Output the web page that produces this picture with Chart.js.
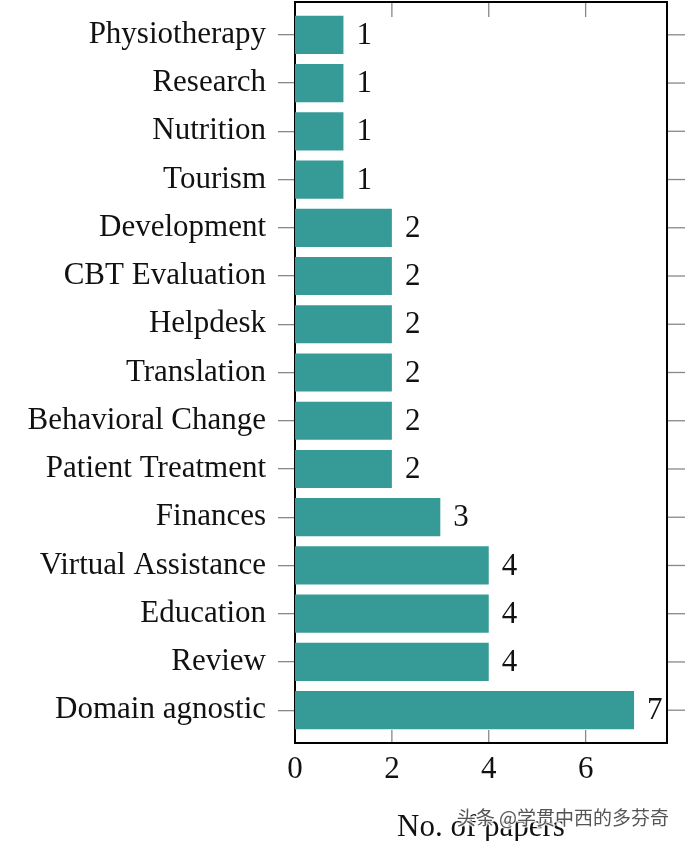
<!DOCTYPE html>
<html lang="en">
<head>
  <meta charset="UTF-8" />
  <title>Papers per domain</title>
  <script src="https://cdn.jsdelivr.net/npm/chart.js"></script>
  <style>
    html, body {
      margin: 0;
      padding: 0;
      background: #fff;
    }
    .chart-box {
      width: 685px;
      height: 841px;
      position: relative;
    }
  </style>
</head>
<body>
  <div class="chart-box">
    <canvas id="papersChart"></canvas>
  </div>

  <script>
    const domains = ['Physiotherapy', 'Research', 'Nutrition', 'Tourism', 'Development',
      'CBT Evaluation', 'Helpdesk', 'Translation', 'Behavioral Change', 'Patient Treatment',
      'Finances', 'Virtual Assistance', 'Education', 'Review', 'Domain agnostic'];
    const paperCounts = [1, 1, 1, 1, 2, 2, 2, 2, 2, 2, 3, 4, 4, 4, 7];
    const xTicks = [0, 2, 4, 6];
    const xTitle = 'No. of papers';
    const watermark = '头条 @学贯中西的多芬奇';

    const SERIF = "'Liberation Serif', 'Times New Roman', serif";
    const TEAL = '#369b97';

    // frame around plot + inward x ticks + outward right ticks
    const framePlugin = {
      id: 'frame',
      beforeDatasetsDraw(chart) {
        const { ctx, chartArea: a, scales } = chart;
        ctx.save();
        ctx.strokeStyle = '#888';
        ctx.lineWidth = 1.3;
        xTicks.forEach(v => {
          const px = scales.x.getPixelForValue(v);
          ctx.beginPath();
          ctx.moveTo(px, a.top); ctx.lineTo(px, a.top + 15);
          ctx.moveTo(px, a.bottom); ctx.lineTo(px, a.bottom - 13);
          ctx.stroke();
        });
        domains.forEach((d, i) => {
          const py = scales.y.getPixelForValue(i);
          ctx.beginPath();
          ctx.moveTo(a.right, py); ctx.lineTo(a.right + 18, py);
          ctx.stroke();
        });
        ctx.strokeStyle = '#000';
        ctx.lineWidth = 2;
        ctx.strokeRect(a.left, a.top, a.right - a.left, a.bottom - a.top);
        ctx.restore();
      },
      afterDraw(chart) {
        const { ctx } = chart;
        const meta = chart.getDatasetMeta(0);
        ctx.save();
        ctx.font = '31px ' + SERIF;
        ctx.fillStyle = '#111';
        ctx.textBaseline = 'middle';
        ctx.textAlign = 'left';
        meta.data.forEach((bar, i) => {
          ctx.fillText(String(paperCounts[i]), bar.x + 13, bar.y + 1);
        });
        // watermark
        ctx.font = "19px 'Noto Sans CJK SC', sans-serif";
        ctx.textAlign = 'right';
        ctx.lineWidth = 3;
        ctx.strokeStyle = 'rgba(255,255,255,0.8)';
        ctx.strokeText(watermark, 669, 818);
        ctx.fillStyle = '#555';
        ctx.fillText(watermark, 669, 818);
        ctx.restore();
      }
    };

    new Chart(document.getElementById('papersChart'), {
      type: 'bar',
      data: {
        datasets: [{
          data: paperCounts.map((v, i) => ({ x: v, y: i })),
          backgroundColor: TEAL,
          borderWidth: 0,
          barPercentage: 0.99,
          categoryPercentage: 0.8
        }]
      },
      options: {
        indexAxis: 'y',
        responsive: true,
        maintainAspectRatio: false,
        animation: false,
        layout: { padding: { top: 2, right: 18, left: 0, bottom: 0 } },
        plugins: {
          legend: { display: false },
          tooltip: { enabled: false }
        },
        scales: {
          x: {
            type: 'linear',
            min: 0,
            max: 7.68,
            afterBuildTicks: s => { s.ticks = xTicks.map(v => ({ value: v })); },
            afterFit: s => { s.height = 98; },
            grid: { display: false },
            border: { display: false },
            ticks: {
              font: { family: SERIF, size: 31 },
              color: '#111',
              padding: 0
            },
            title: {
              display: true,
              text: xTitle,
              font: { family: SERIF, size: 31 },
              color: '#111',
              padding: { top: 20, bottom: -5 }
            }
          },
          y: {
            type: 'linear',
            reverse: true,
            offset: false,
            min: -0.68,
            max: 14.68,
            afterBuildTicks: s => { s.ticks = domains.map((d, i) => ({ value: i })); },
            afterFit: s => { s.width = 295; s.paddingTop = 0; s.paddingBottom = 0; },
            grid: {
              offset: false,
              drawOnChartArea: false,
              drawTicks: true,
              tickLength: 17,
              tickColor: '#888',
              lineWidth: 1.3
            },
            border: { display: false },
            ticks: {
              autoSkip: false,
              font: { family: SERIF, size: 31 },
              color: '#111',
              padding: 12,
              callback: v => domains[v] ?? ''
            }
          }
        }
      },
      plugins: [framePlugin]
    });
  </script>
</body>
</html>
